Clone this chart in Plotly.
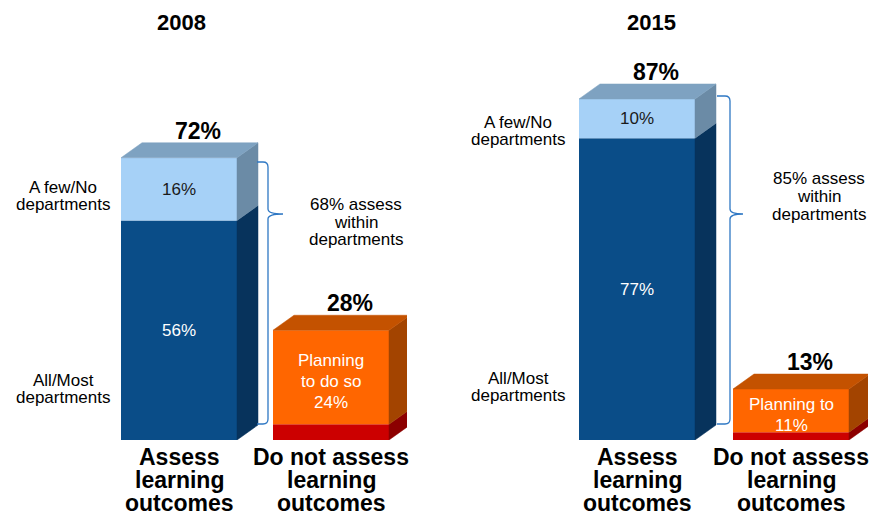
import plotly.graph_objects as go

# ---------------- data ----------------
years = ["2008", "2015"]
categories = ["Assess learning outcomes", "Do not assess learning outcomes"]
category_lines = [["Assess", "learning", "outcomes"], ["Do not assess", "learning", "outcomes"]]
all_most = [56, 77]          # % All/Most departments
few_no = [16, 10]            # % A few/No departments
planning = [24, 11]          # % planning to do so
not_planning = [4, 2]        # % not planning
planning_lines = [["Planning", "to do so"], ["Planning to"]]
assess_within = [68, 85]
row_few = ["A few/No", "departments"]
row_most = ["All/Most", "departments"]

# ---------------- layout helpers ----------------
OFF = 8                      # page body margin compensation
W, H = 877 - OFF, 515 - OFF
PLOT_BOTTOM = 440            # reference px of y=0
PLOT_H = PLOT_BOTTOM - OFF
MB = H - PLOT_H
PX_PER_PCT = 3.92
YMAX = PLOT_H / PX_PER_PCT
FONT = "Liberation Sans, Arial, sans-serif"

# x-domains in reference pixels (range -0.5..1.5) for each panel
dom_px = [(103, 407), (560, 868)]
BAR_PX = 116
DX_PX, DY_PX = 21, 15

def px(x):
    return (x - OFF) / W

def py(y):
    return (PLOT_BOTTOM - y) / PLOT_H

C_DARK, C_DARK_SIDE = "#0A4D88", "#07335C"
C_LIGHT, C_LIGHT_SIDE = "#A6D1F7", "#6B8BA6"
C_TOP_BLUE = "#7EA2C1"
C_ORANGE, C_ORANGE_SIDE, C_ORANGE_TOP = "#FF6600", "#A34400", "#C45200"
C_RED, C_RED_SIDE = "#CC0000", "#8C0000"

fig = go.Figure()
annotations = []
shapes = []

def add_lines(lines, x, yc_px, spacing, size, color="black", bold=False,
              xref="paper", yref="paper", y=None, yshift=0):
    n = len(lines)
    for k, line in enumerate(lines):
        off = (k - (n - 1) / 2) * spacing
        txt = f"<b>{line}</b>" if bold else line
        if y is None:
            annotations.append(dict(x=x, y=py(yc_px + off), xref=xref, yref="paper",
                                    text=txt, showarrow=False, yanchor="middle",
                                    xanchor="center",
                                    font=dict(size=size, color=color, family=FONT)))
        else:
            annotations.append(dict(x=x, y=y, xref=xref, yref=yref, yshift=yshift - off,
                                    text=txt, showarrow=False, yanchor="middle",
                                    xanchor="center",
                                    font=dict(size=size, color=color, family=FONT)))

for i, yr in enumerate(years):
    xa = "x" if i == 0 else "x2"
    ya = "y" if i == 0 else "y2"
    ppu = (dom_px[i][1] - dom_px[i][0]) / 2.0
    w = BAR_PX / ppu
    dx = DX_PX / ppu
    dy = DY_PX / PX_PER_PCT

    stacks = [
        [(all_most[i], C_DARK, C_DARK_SIDE), (few_no[i], C_LIGHT, C_LIGHT_SIDE)],
        [(not_planning[i], C_RED, C_RED_SIDE), (planning[i], C_ORANGE, C_ORANGE_SIDE)],
    ]
    tops = [C_TOP_BLUE, C_ORANGE_TOP]
    for c, stack in enumerate(stacks):
        base = 0
        for val, col, side in stack:
            fig.add_trace(go.Bar(x=[c], y=[val], base=[base], width=[w],
                                 marker=dict(color=col, line=dict(width=0)),
                                 xaxis=xa, yaxis=ya, showlegend=False, hoverinfo="skip"))
            xr = c + w / 2
            fig.add_trace(go.Scatter(
                x=[xr, xr + dx, xr + dx, xr, xr],
                y=[base, base + dy, base + val + dy, base + val, base],
                fill="toself", fillcolor=side, mode="lines",
                line=dict(width=0.5, color=side),
                xaxis=xa, yaxis=ya, showlegend=False, hoverinfo="skip"))
            base += val
        total = base
        xl, xr = c - w / 2, c + w / 2
        fig.add_trace(go.Scatter(
            x=[xl, xl + dx, xr + dx, xr, xl],
            y=[total, total + dy, total + dy, total, total],
            fill="toself", fillcolor=tops[c], mode="lines",
            line=dict(width=0.5, color=tops[c]),
            xaxis=xa, yaxis=ya, showlegend=False, hoverinfo="skip"))
        # total label
        annotations.append(dict(x=c + dx / 2, y=total + dy, xref=xa, yref=ya,
                                text=f"<b>{total}%</b>", showarrow=False,
                                xshift=8, yshift=12, yanchor="middle", xanchor="center",
                                font=dict(size=23, color="black", family=FONT)))
        # category label lines
        add_lines(category_lines[c], c, 480, 23, 23, bold=True, xref=xa)

    # inside labels
    annotations.append(dict(x=0, y=all_most[i] / 2, xref=xa, yref=ya,
                            text=f"{all_most[i]}%", showarrow=False, xanchor="center",
                            font=dict(size=17, color="white", family=FONT)))
    annotations.append(dict(x=0, y=all_most[i] + few_no[i] / 2, xref=xa, yref=ya,
                            text=f"{few_no[i]}%", showarrow=False, xanchor="center",
                            font=dict(size=17, color="#1a1a1a", family=FONT)))
    add_lines(planning_lines[i] + [f"{planning[i]}%"], 1, None, 21, 17, color="white",
              xref=xa, yref=ya, y=not_planning[i] + planning[i] / 2, yshift=-4)

# titles
for yr, xp in zip(years, [181, 651]):
    annotations.append(dict(x=px(xp), y=py(23), xref="paper", yref="paper",
                            text=f"<b>{yr}</b>", showarrow=False, yanchor="middle",
                            xanchor="center",
                            font=dict(size=22, color="black", family=FONT)))

# row labels
for (xp, yt, yb) in [(63, 196, 389), (518, 131, 387)]:
    add_lines(row_few, px(xp), yt, 17, 17)
    add_lines(row_most, px(xp), yb, 17, 17)

# braces and their texts
for (x0, x1, xt, y0, y1, yt, tx, ty, val) in [
        (257, 268, 283, 162, 424, 214, 356, 222, assess_within[0]),
        (717, 730, 743, 96, 424, 214, 819, 196, assess_within[1])]:
    r = 5
    path = (f"M {px(x0)},{py(y0)} L {px(x1 - r)},{py(y0)} Q {px(x1)},{py(y0)} {px(x1)},{py(y0 + r)} "
            f"L {px(x1)},{py(yt - r)} Q {px(x1)},{py(yt)} {px(xt)},{py(yt)} "
            f"Q {px(x1)},{py(yt)} {px(x1)},{py(yt + r)} "
            f"L {px(x1)},{py(y1 - r)} Q {px(x1)},{py(y1)} {px(x1 - r)},{py(y1)} L {px(x0)},{py(y1)}")
    shapes.append(dict(type="path", path=path, xref="paper", yref="paper",
                       line=dict(color="#2F78C4", width=1.3)))
    add_lines([f"{val}% assess", "within", "departments"], px(tx), ty, 18, 17)

axis_common = dict(range=[-0.5, 1.5], showgrid=False, zeroline=False, showticklabels=False,
                   showline=False, fixedrange=True)
yaxis_common = dict(range=[0, YMAX], showgrid=False, zeroline=False, showticklabels=False,
                    showline=False, fixedrange=True)

fig.update_layout(
    width=W, height=H,
    margin=dict(l=0, r=0, t=0, b=MB, pad=0),
    paper_bgcolor="white", plot_bgcolor="white",
    barmode="overlay",
    xaxis=dict(domain=[px(dom_px[0][0]), px(dom_px[0][1])], anchor="y",
               tickvals=[0, 1], ticktext=categories, **axis_common),
    xaxis2=dict(domain=[px(dom_px[1][0]), px(dom_px[1][1])], anchor="y2",
                tickvals=[0, 1], ticktext=categories, **axis_common),
    yaxis=dict(domain=[0, 1], anchor="x", **yaxis_common),
    yaxis2=dict(domain=[0, 1], anchor="x2", **yaxis_common),
    annotations=annotations,
    shapes=shapes,
    showlegend=False,
)

fig.write_html("out.html")
